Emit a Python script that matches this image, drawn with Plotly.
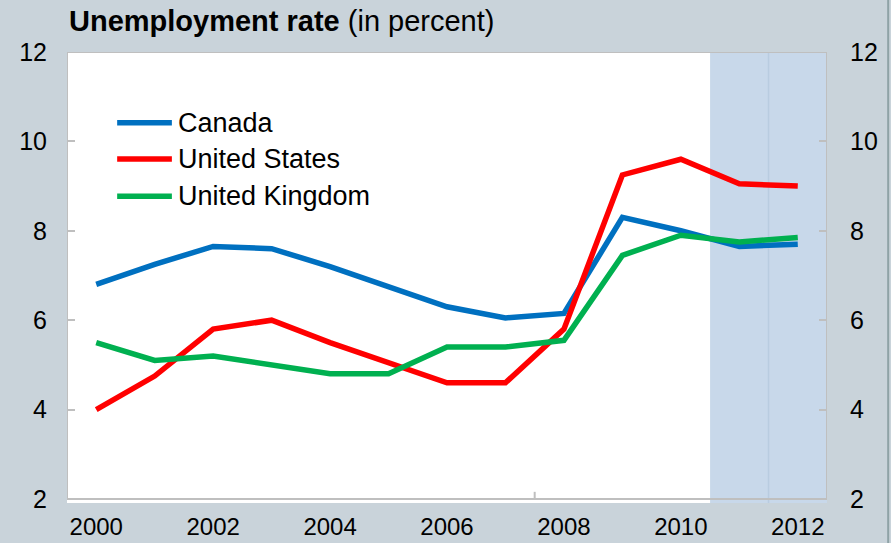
import plotly.graph_objects as go

# Unemployment rate, annual, in percent
years = list(range(2000, 2013))
canada = [6.8, 7.25, 7.65, 7.6, 7.2, 6.75, 6.3, 6.05, 6.15, 8.3, 8.0, 7.65, 7.7]
united_states = [4.0, 4.75, 5.8, 6.0, 5.5, 5.05, 4.6, 4.6, 5.8, 9.25, 9.6, 9.05, 9.0]
united_kingdom = [5.5, 5.1, 5.2, 5.0, 4.8, 4.8, 5.4, 5.4, 5.55, 7.45, 7.9, 7.75, 7.85]

series_names = ["Canada", "United States", "United Kingdom"]
series_values = [canada, united_states, united_kingdom]
series_colors = ["#0070C0", "#FF0000", "#00B050"]

x_tick_years = [2000, 2002, 2004, 2006, 2008, 2010, 2012]
y_ticks = [2, 4, 6, 8, 10, 12]
projection_start = 2010.5      # shaded projection period
projection_divider = 2011.5

BG = "#C9D3DA"
BORDER = "#BFBFBF"
FONT = "Liberation Sans, Arial, sans-serif"
TICK_SIZE = 25

X_LO, X_HI = 1999.5, 2012.5
Y_LO, Y_HI = 2, 12
Y_PAD = 0.09

fig = go.Figure()

for name, vals, col in zip(series_names, series_values, series_colors):
    fig.add_trace(go.Scatter(
        x=years, y=vals, name=name, mode="lines",
        line=dict(color=col, width=5.5), showlegend=False,
    ))

# invisible trace so the mirrored right-hand axis is drawn
fig.add_trace(go.Scatter(x=[years[0]], y=[Y_LO], yaxis="y2", mode="markers",
                         marker=dict(opacity=0), showlegend=False, hoverinfo="skip"))

shapes = [
    # projection shading
    dict(type="rect", xref="x", yref="y", x0=projection_start, x1=X_HI + 0.04,
         y0=Y_LO - Y_PAD, y1=Y_HI, fillcolor="#C8D8EA", line_width=0, layer="below"),
    dict(type="line", xref="x", yref="y", x0=projection_divider, x1=projection_divider,
         y0=Y_LO - Y_PAD, y1=Y_HI, line=dict(color="#B9CCE0", width=1.5), layer="below"),
    # plot frame
    dict(type="line", xref="x", yref="y", x0=X_LO, x1=X_HI, y0=Y_LO, y1=Y_LO,
         line=dict(color=BORDER, width=2)),
    dict(type="line", xref="x", yref="y", x0=X_LO, x1=X_HI, y0=Y_HI, y1=Y_HI,
         line=dict(color=BORDER, width=2)),
    dict(type="line", xref="x", yref="y", x0=X_LO, x1=X_LO, y0=Y_LO, y1=Y_HI,
         line=dict(color=BORDER, width=2)),
    dict(type="line", xref="x", yref="y", x0=X_HI, x1=X_HI, y0=Y_LO, y1=Y_HI,
         line=dict(color=BORDER, width=2)),
    # category-axis tick mark
    dict(type="line", xref="x", yref="y", x0=2007.5, x1=2007.5, y0=Y_LO, y1=Y_LO + 0.16,
         line=dict(color=BORDER, width=2)),
    # right edge rule of the panel
    dict(type="line", xref="paper", yref="paper", x0=1.0805, x1=1.0805, y0=-0.2, y1=1.2,
         line=dict(color="#8FA3A6", width=2)),
]

annotations = [
    dict(xref="paper", yref="paper", x=0.0, y=1.068, xanchor="left", yanchor="middle",
         text="<b>Unemployment rate</b> (in percent)", showarrow=False,
         font=dict(family=FONT, size=29, color="#000000")),
]

# legend drawn as line samples with labels
legend_rows_y = [0.843, 0.763, 0.680]
for name, col, ly in zip(series_names, series_colors, legend_rows_y):
    shapes.append(dict(type="line", xref="paper", yref="paper", x0=0.066, x1=0.138,
                       y0=ly, y1=ly, line=dict(color=col, width=5.5)))
    annotations.append(dict(xref="paper", yref="paper", x=0.143, y=ly, xanchor="left",
                            yanchor="middle", text=name, showarrow=False,
                            font=dict(family=FONT, size=27, color="#000000")))

fig.update_layout(
    width=891, height=543,
    margin=dict(l=67, r=64, t=52, b=40),
    paper_bgcolor=BG, plot_bgcolor="#FFFFFF",
    font=dict(family=FONT, size=TICK_SIZE, color="#000000"),
    xaxis=dict(range=[X_LO, X_HI], tickvals=x_tick_years, ticks="", showgrid=False,
               zeroline=False, showline=False, tickfont=dict(size=24),
               ticklabelstandoff=7, automargin=False),
    yaxis=dict(range=[Y_LO - Y_PAD, Y_HI], tickvals=y_ticks, ticks="inside", ticklen=8,
               tickcolor=BORDER, tickwidth=2, showgrid=False, zeroline=False,
               showline=False, tickfont=dict(size=TICK_SIZE), ticklabelstandoff=19,
               automargin=False),
    yaxis2=dict(range=[Y_LO - Y_PAD, Y_HI], tickvals=y_ticks, ticks="inside", ticklen=8,
                tickcolor=BORDER, tickwidth=2, overlaying="y", side="right",
                showgrid=False, zeroline=False, showline=False,
                tickfont=dict(size=TICK_SIZE), ticklabelstandoff=22, automargin=False),
    shapes=shapes,
    annotations=annotations,
    showlegend=False,
)

fig.write_html("out.html")
